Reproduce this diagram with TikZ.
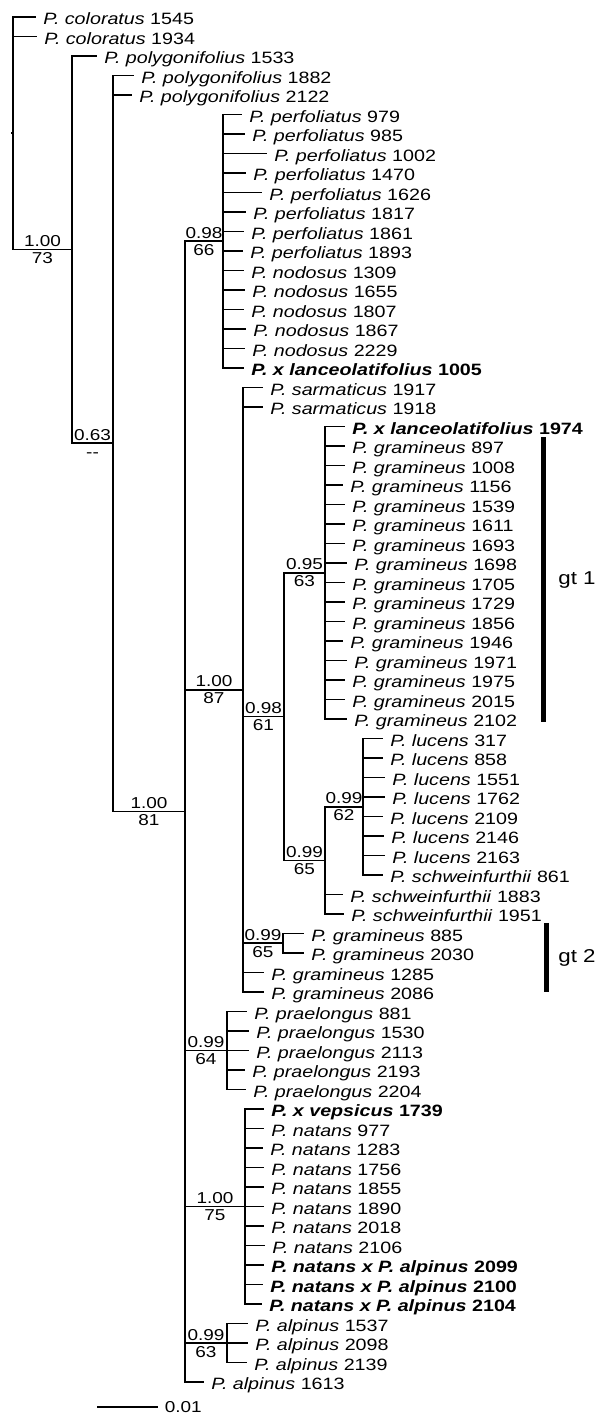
\documentclass[tikz,border=0pt]{standalone}
\usepackage{fontspec}
\setmainfont{Liberation Sans}[FakeStretch=1.2]

\begin{document}
\begin{tikzpicture}[x=0.5pt,y=-9.75pt,
  branch/.style={line width=0.8pt},
  taxon/.style={anchor=west,inner xsep=3.5pt,inner ysep=0pt,
    text height=9.2pt,text depth=1.6pt,font=\fontsize{8.2}{9}\selectfont},
  bs/.style={inner sep=1pt,text height=5.7pt,text depth=0pt,font=\fontsize{7.9}{9}\selectfont},
  gt/.style={line width=2.5pt}]
  \useasboundingbox (0,0.128) rectangle (600,72.795);
  % internal nodes (x in px, y in leaf rows)
  \coordinate (root) at (13,6.96);
  \coordinate (A) at (72,12.93);
  \coordinate (B) at (113,22.85);
  \coordinate (C) at (185,41.75);
  \coordinate (P) at (223,12.5);
  \coordinate (D) at (243,35.5);
  \coordinate (E) at (284,36.875);
  \coordinate (F) at (325,29.5);
  \coordinate (G) at (325,44.25);
  \coordinate (H) at (363,41.5);
  \coordinate (I) at (283,48.5);
  \coordinate (J) at (227,54);
  \coordinate (K) at (245,62);
  \coordinate (L) at (227,69);
  % taxa
  \node[taxon] (col1545) at (36,1) {\textit{P. coloratus} 1545};
  \node[taxon] (col1934) at (37,2) {\textit{P. coloratus} 1934};
  \node[taxon] (pol1533) at (97,3) {\textit{P. polygonifolius} 1533};
  \node[taxon] (pol1882) at (134,4) {\textit{P. polygonifolius} 1882};
  \node[taxon] (pol2122) at (132,5) {\textit{P. polygonifolius} 2122};
  \node[taxon] (per979) at (242,6) {\textit{P. perfoliatus} 979};
  \node[taxon] (per985) at (245,7) {\textit{P. perfoliatus} 985};
  \node[taxon] (per1002) at (267,8) {\textit{P. perfoliatus} 1002};
  \node[taxon] (per1470) at (246,9) {\textit{P. perfoliatus} 1470};
  \node[taxon] (per1626) at (262,10) {\textit{P. perfoliatus} 1626};
  \node[taxon] (per1817) at (246,11) {\textit{P. perfoliatus} 1817};
  \node[taxon] (per1861) at (244,12) {\textit{P. perfoliatus} 1861};
  \node[taxon] (per1893) at (243,13) {\textit{P. perfoliatus} 1893};
  \node[taxon] (nod1309) at (244,14) {\textit{P. nodosus} 1309};
  \node[taxon] (nod1655) at (245,15) {\textit{P. nodosus} 1655};
  \node[taxon] (nod1807) at (244,16) {\textit{P. nodosus} 1807};
  \node[taxon] (nod1867) at (246,17) {\textit{P. nodosus} 1867};
  \node[taxon] (nod2229) at (245,18) {\textit{P. nodosus} 2229};
  \node[taxon] (lan1005) at (244,19) {\textbf{\textit{P. x lanceolatifolius} 1005}};
  \node[taxon] (sar1917) at (263,20) {\textit{P. sarmaticus} 1917};
  \node[taxon] (sar1918) at (263,21) {\textit{P. sarmaticus} 1918};
  \node[taxon] (lan1974) at (345,22) {\textbf{\textit{P. x lanceolatifolius} 1974}};
  \node[taxon] (gra897) at (345,23) {\textit{P. gramineus} 897};
  \node[taxon] (gra1008) at (345,24) {\textit{P. gramineus} 1008};
  \node[taxon] (gra1156) at (343,25) {\textit{P. gramineus} 1156};
  \node[taxon] (gra1539) at (345,26) {\textit{P. gramineus} 1539};
  \node[taxon] (gra1611) at (345,27) {\textit{P. gramineus} 1611};
  \node[taxon] (gra1693) at (345,28) {\textit{P. gramineus} 1693};
  \node[taxon] (gra1698) at (347,29) {\textit{P. gramineus} 1698};
  \node[taxon] (gra1705) at (345,30) {\textit{P. gramineus} 1705};
  \node[taxon] (gra1729) at (345,31) {\textit{P. gramineus} 1729};
  \node[taxon] (gra1856) at (345,32) {\textit{P. gramineus} 1856};
  \node[taxon] (gra1946) at (343,33) {\textit{P. gramineus} 1946};
  \node[taxon] (gra1971) at (347,34) {\textit{P. gramineus} 1971};
  \node[taxon] (gra1975) at (345,35) {\textit{P. gramineus} 1975};
  \node[taxon] (gra2015) at (345,36) {\textit{P. gramineus} 2015};
  \node[taxon] (gra2102) at (347,37) {\textit{P. gramineus} 2102};
  \node[taxon] (luc317) at (383,38) {\textit{P. lucens} 317};
  \node[taxon] (luc858) at (383,39) {\textit{P. lucens} 858};
  \node[taxon] (luc1551) at (385,40) {\textit{P. lucens} 1551};
  \node[taxon] (luc1762) at (385,41) {\textit{P. lucens} 1762};
  \node[taxon] (luc2109) at (383,42) {\textit{P. lucens} 2109};
  \node[taxon] (luc2146) at (384,43) {\textit{P. lucens} 2146};
  \node[taxon] (luc2163) at (385,44) {\textit{P. lucens} 2163};
  \node[taxon] (sch861) at (383,45) {\textit{P. schweinfurthii} 861};
  \node[taxon] (sch1883) at (343,46) {\textit{P. schweinfurthii} 1883};
  \node[taxon] (sch1951) at (344,47) {\textit{P. schweinfurthii} 1951};
  \node[taxon] (gra885) at (304,48) {\textit{P. gramineus} 885};
  \node[taxon] (gra2030) at (304,49) {\textit{P. gramineus} 2030};
  \node[taxon] (gra1285) at (264,50) {\textit{P. gramineus} 1285};
  \node[taxon] (gra2086) at (264,51) {\textit{P. gramineus} 2086};
  \node[taxon] (pra881) at (247,52) {\textit{P. praelongus} 881};
  \node[taxon] (pra1530) at (249,53) {\textit{P. praelongus} 1530};
  \node[taxon] (pra2113) at (249,54) {\textit{P. praelongus} 2113};
  \node[taxon] (pra2193) at (245,55) {\textit{P. praelongus} 2193};
  \node[taxon] (pra2204) at (246,56) {\textit{P. praelongus} 2204};
  \node[taxon] (vep1739) at (264,57) {\textbf{\textit{P. x vepsicus} 1739}};
  \node[taxon] (nat977) at (264,58) {\textit{P. natans} 977};
  \node[taxon] (nat1283) at (263,59) {\textit{P. natans} 1283};
  \node[taxon] (nat1756) at (264,60) {\textit{P. natans} 1756};
  \node[taxon] (nat1855) at (264,61) {\textit{P. natans} 1855};
  \node[taxon] (nat1890) at (264,62) {\textit{P. natans} 1890};
  \node[taxon] (nat2018) at (264,63) {\textit{P. natans} 2018};
  \node[taxon] (nat2106) at (265,64) {\textit{P. natans} 2106};
  \node[taxon] (nxa2099) at (264,65) {\textbf{\textit{P. natans x P. alpinus} 2099}};
  \node[taxon] (nxa2100) at (263,66) {\textbf{\textit{P. natans x P. alpinus} 2100}};
  \node[taxon] (nxa2104) at (262,67) {\textbf{\textit{P. natans x P. alpinus} 2104}};
  \node[taxon] (alp1537) at (248,68) {\textit{P. alpinus} 1537};
  \node[taxon] (alp2098) at (248,69) {\textit{P. alpinus} 2098};
  \node[taxon] (alp2139) at (247,70) {\textit{P. alpinus} 2139};
  \node[taxon] (alp1613) at (204,71) {\textit{P. alpinus} 1613};
  % backbone with support values
  \draw[branch] (root) -- ++(-2,0);
  \draw[branch] (root) |- (A) node[bs,pos=0.75,above]{1.00} node[bs,pos=0.75,below]{73};
  \draw[branch] (A) |- (B) node[bs,pos=0.75,above]{0.63} node[bs,pos=0.75,below]{{-}{-}};
  \draw[branch] (B) |- (C) node[bs,pos=0.75,above]{1.00} node[bs,pos=0.75,below]{81};
  \draw[branch] (C) |- (P) node[bs,pos=0.75,above]{0.98} node[bs,pos=0.75,below]{66};
  \draw[branch] (C) |- (D) node[bs,pos=0.75,above]{1.00} node[bs,pos=0.75,below]{87};
  \draw[branch] (D) |- (E) node[bs,pos=0.75,above]{0.98} node[bs,pos=0.75,below]{61};
  \draw[branch] (E) |- (F) node[bs,pos=0.75,above]{0.95} node[bs,pos=0.75,below]{63};
  \draw[branch] (E) |- (G) node[bs,pos=0.75,above]{0.99} node[bs,pos=0.75,below]{65};
  \draw[branch] (G) |- (H) node[bs,pos=0.75,above]{0.99} node[bs,pos=0.75,below]{62};
  \draw[branch] (D) |- (I) node[bs,pos=0.75,above]{0.99} node[bs,pos=0.75,below]{65};
  \draw[branch] (C) |- (J) node[bs,pos=0.75,above]{0.99} node[bs,pos=0.75,below]{64};
  \draw[branch] (C) |- (K) node[bs,pos=0.75,above]{1.00} node[bs,pos=0.75,below]{75};
  \draw[branch] (C) |- (L) node[bs,pos=0.75,above]{0.99} node[bs,pos=0.75,below]{63};
  % terminal branches
  \draw[branch] (root) |- (col1545.west) (root) |- (col1934.west);
  \draw[branch] (A) |- (pol1533.west);
  \draw[branch] (B) |- (pol1882.west) (B) |- (pol2122.west);
  \draw[branch] (P) |- (per979.west) (P) |- (per985.west) (P) |- (per1002.west)
    (P) |- (per1470.west) (P) |- (per1626.west) (P) |- (per1817.west)
    (P) |- (per1861.west) (P) |- (per1893.west) (P) |- (nod1309.west)
    (P) |- (nod1655.west) (P) |- (nod1807.west) (P) |- (nod1867.west)
    (P) |- (nod2229.west) (P) |- (lan1005.west);
  \draw[branch] (D) |- (sar1917.west) (D) |- (sar1918.west)
    (D) |- (gra1285.west) (D) |- (gra2086.west);
  \draw[branch] (F) |- (lan1974.west) (F) |- (gra897.west) (F) |- (gra1008.west)
    (F) |- (gra1156.west) (F) |- (gra1539.west) (F) |- (gra1611.west)
    (F) |- (gra1693.west) (F) |- (gra1698.west) (F) |- (gra1705.west)
    (F) |- (gra1729.west) (F) |- (gra1856.west) (F) |- (gra1946.west)
    (F) |- (gra1971.west) (F) |- (gra1975.west) (F) |- (gra2015.west)
    (F) |- (gra2102.west);
  \draw[branch] (H) |- (luc317.west) (H) |- (luc858.west) (H) |- (luc1551.west)
    (H) |- (luc1762.west) (H) |- (luc2109.west) (H) |- (luc2146.west)
    (H) |- (luc2163.west) (H) |- (sch861.west);
  \draw[branch] (G) |- (sch1883.west) (G) |- (sch1951.west);
  \draw[branch] (I) |- (gra885.west) (I) |- (gra2030.west);
  \draw[branch] (J) |- (pra881.west) (J) |- (pra1530.west) (J) |- (pra2113.west)
    (J) |- (pra2193.west) (J) |- (pra2204.west);
  \draw[branch] (K) |- (vep1739.west) (K) |- (nat977.west) (K) |- (nat1283.west)
    (K) |- (nat1756.west) (K) |- (nat1855.west) (K) |- (nat1890.west)
    (K) |- (nat2018.west) (K) |- (nat2106.west) (K) |- (nxa2099.west)
    (K) |- (nxa2100.west) (K) |- (nxa2104.west);
  \draw[branch] (L) |- (alp1537.west) (L) |- (alp2098.west) (L) |- (alp2139.west);
  \draw[branch] (C) |- (alp1613.west);
  % group bars
  \draw[gt] (543,22.54) -- (543,37.15);
  \node[font=\fontsize{9.3}{11}\selectfont] (gt1) at (577,29.87) {gt 1};
  \draw[gt] (546,47.46) -- (546,51.0);
  \node[font=\fontsize{9.3}{11}\selectfont] (gt2) at (577,49.26) {gt 2};
  % scale bar
  \coordinate (sb) at (97,72.28);
  \draw[branch] (sb) -- ++(61,0) node[bs,right,inner xsep=3pt] (sbl) {0.01};
\end{tikzpicture}
\end{document}
